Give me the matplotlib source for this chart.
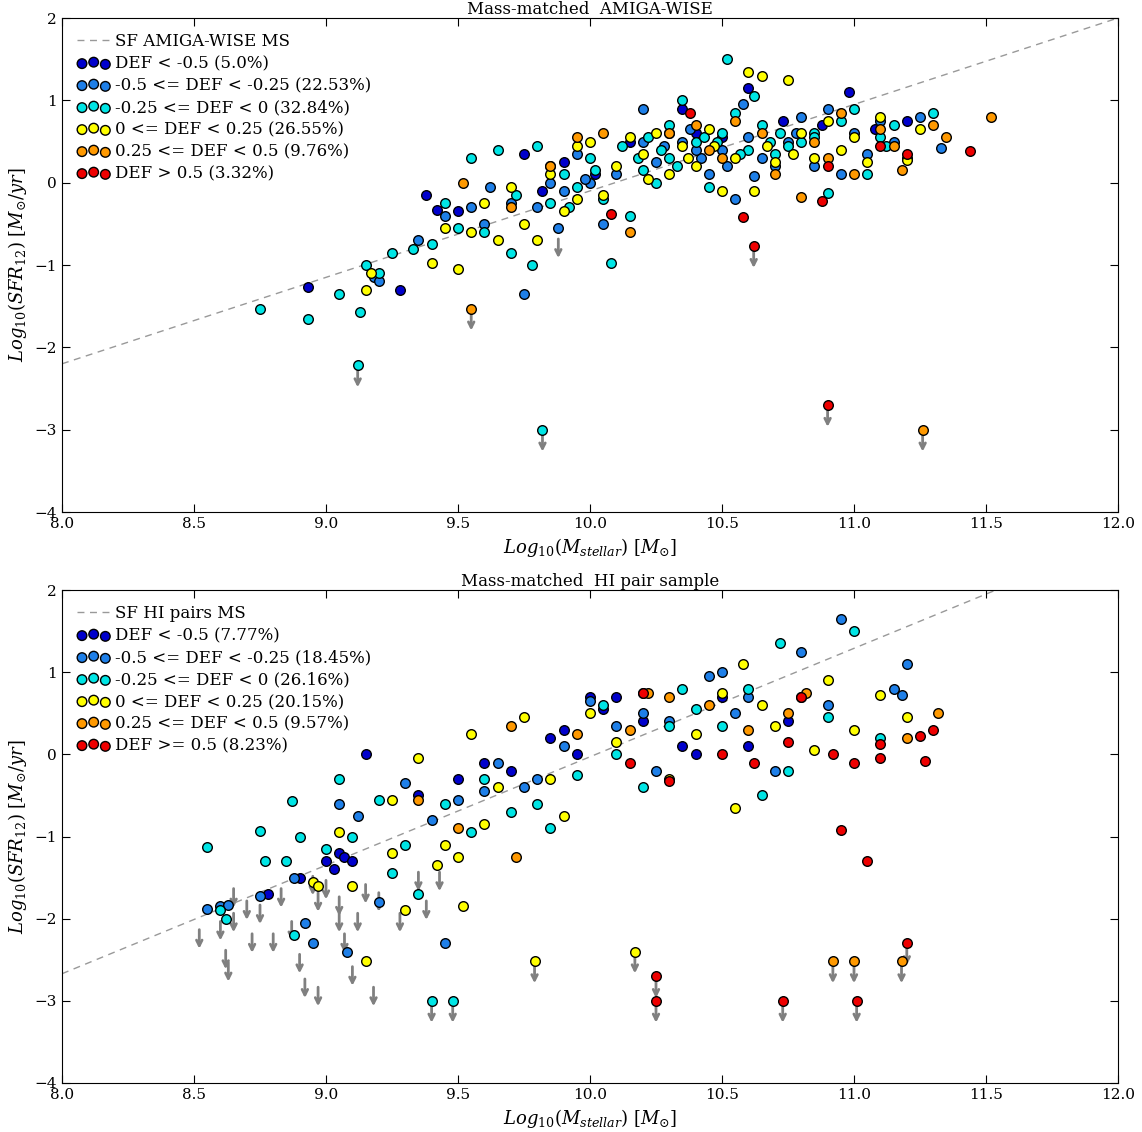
import matplotlib
matplotlib.use("Agg")
import matplotlib.pyplot as plt
import numpy as np

plt.rcParams['font.family'] = ['DejaVu Serif']
plt.rcParams['mathtext.fontset'] = 'dejavuserif'

colors = ['#0000cc', '#1e7fe8', '#00e5e5', '#ffff00', '#ff9900', '#ee0000']

# ---- top panel data ----
top_labels = ['DEF < -0.5 (5.0%)', '-0.5 <= DEF < -0.25 (22.53%)', '-0.25 <= DEF < 0 (32.84%)',
              '0 <= DEF < 0.25 (26.55%)', '0.25 <= DEF < 0.5 (9.76%)', 'DEF > 0.5 (3.32%)']
top_pts = [
 [(8.93,-1.27),(9.28,-1.3),(9.38,-0.15),(9.42,-0.33),(9.5,-0.35),(9.82,-0.1),(9.85,0.2),(9.9,0.25),(10.02,0.1),(10.35,0.9),(10.4,0.6),(10.6,1.15),(10.73,0.75),(10.98,1.1),(11.08,0.65),(11.2,0.75),(9.75,0.35),(10.15,0.5),(10.5,0.55),(10.88,0.7)],
 [(9.18,-1.15),(9.2,-1.2),(9.35,-0.7),(9.45,-0.4),(9.55,-0.3),(9.6,-0.5),(9.7,-0.25),(9.75,-1.35),(9.8,-0.3),(9.85,0.0),(9.88,-0.55),(9.9,-0.1),(9.95,0.35),(10.0,0.0),(10.05,-0.5),(10.1,0.1),(10.2,0.5),(10.25,0.25),(10.3,0.6),(10.35,0.5),(10.42,0.3),(10.45,0.1),(10.5,0.4),(10.55,-0.2),(10.6,0.55),(10.65,0.3),(10.7,0.2),(10.75,0.5),(10.8,0.8),(10.85,0.2),(10.9,0.9),(10.95,0.1),(11.0,0.6),(11.05,0.35),(11.15,0.5),(11.25,0.8),(11.33,0.42),(10.58,0.95),(10.2,0.9),(9.62,-0.05),(10.28,0.45),(10.38,0.65),(10.52,0.2),(10.62,0.08),(10.78,0.6),(11.1,0.75),(9.98,0.05),(10.4,0.4)],
 [(8.75,-1.53),(8.93,-1.65),(9.05,-1.35),(9.13,-1.57),(9.15,-1.0),(9.2,-1.1),(9.25,-0.85),(9.12,-2.22),(9.82,-3.0),(9.33,-0.8),(9.4,-0.75),(9.45,-0.25),(9.5,-0.55),(9.55,0.3),(9.6,-0.6),(9.65,0.4),(9.7,-0.85),(9.72,-0.15),(9.78,-1.0),(9.8,0.45),(9.85,-0.25),(9.9,0.1),(9.95,-0.05),(10.0,0.3),(10.05,-0.2),(10.08,-0.98),(10.12,0.45),(10.15,-0.4),(10.2,0.15),(10.25,0.0),(10.3,0.3),(10.35,1.0),(10.4,0.5),(10.45,-0.05),(10.5,0.6),(10.55,0.85),(10.6,0.4),(10.62,1.05),(10.65,0.7),(10.7,0.35),(10.75,0.45),(10.8,0.5),(10.85,0.6),(10.9,-0.12),(10.95,0.75),(11.0,0.9),(11.05,0.1),(11.1,0.55),(11.15,0.7),(11.2,0.3),(11.3,0.85),(10.52,1.5),(10.3,0.7),(10.22,0.55),(10.48,0.5),(10.68,0.5),(10.85,0.55),(10.27,0.4),(10.33,0.2),(10.43,0.55),(10.57,0.35),(10.72,0.6),(10.18,0.3),(10.02,0.15),(9.92,-0.3),(11.12,0.45)],
 [(9.15,-1.3),(9.17,-1.1),(9.4,-0.97),(9.5,-1.05),(9.55,-0.6),(9.6,-0.25),(9.65,-0.7),(9.7,-0.05),(9.75,-0.5),(9.8,-0.7),(9.85,0.1),(9.9,-0.35),(9.95,0.45),(10.0,0.5),(10.05,-0.15),(10.1,0.2),(10.15,0.55),(10.2,0.35),(10.25,0.6),(10.3,0.1),(10.35,0.45),(10.4,0.2),(10.45,0.65),(10.5,-0.1),(10.55,0.3),(10.6,1.35),(10.62,-0.1),(10.65,1.3),(10.7,0.25),(10.75,1.25),(10.8,0.6),(10.85,0.3),(10.9,0.75),(10.95,0.4),(11.0,0.55),(11.05,0.25),(11.1,0.8),(11.2,0.28),(11.25,0.65),(9.45,-0.55),(9.95,-0.2),(10.37,0.3),(10.47,0.45),(10.67,0.45),(10.77,0.35),(10.22,0.05)],
 [(9.55,-1.53),(11.26,-3.0),(9.7,-0.3),(9.85,0.2),(9.95,0.55),(10.05,0.6),(10.15,-0.6),(10.3,0.6),(10.4,0.7),(10.45,0.4),(10.5,0.3),(10.55,0.75),(10.65,0.6),(10.7,0.1),(10.8,-0.18),(10.85,0.5),(10.9,0.3),(10.95,0.85),(11.0,0.1),(11.1,0.65),(11.15,0.45),(11.18,0.15),(11.3,0.7),(11.35,0.55),(11.52,0.8),(9.52,0.0)],
 [(10.08,-0.38),(10.38,0.85),(10.58,-0.42),(10.62,-0.77),(10.88,-0.22),(10.9,0.2),(10.9,-2.7),(11.1,0.45),(11.2,0.35),(11.44,0.38)],
]
top_uplims = [(9.12,-2.22),(9.82,-3.0),(9.55,-1.53),(11.26,-3.0),(10.62,-0.77),(10.9,-2.7),(9.88,-0.65)]
top_ms = (-2.2, 1.05)  # intercept at 8, slope

# ---- bottom panel data ----
bot_labels = ['DEF < -0.5 (7.77%)', '-0.5 <= DEF < -0.25 (18.45%)', '-0.25 <= DEF < 0 (26.16%)',
              '0 <= DEF < 0.25 (20.15%)', '0.25 <= DEF < 0.5 (9.57%)', 'DEF >= 0.5 (8.23%)']
bot_pts = [
 [(8.78,-1.7),(8.9,-1.5),(9.0,-1.3),(9.05,-1.2),(9.07,-1.25),(9.1,-1.3),(9.15,0.0),(9.35,-0.5),(9.5,-0.3),(9.6,-0.1),(9.7,-0.2),(9.85,0.2),(9.95,0.0),(10.0,0.7),(10.05,0.55),(10.1,0.7),(10.2,0.4),(10.4,0.0),(10.5,0.7),(10.6,0.1),(10.75,0.4),(9.9,0.3),(9.03,-1.4),(10.35,0.1)],
 [(8.55,-1.88),(8.6,-1.85),(8.63,-1.83),(8.88,-1.5),(8.92,-2.05),(8.95,-2.3),(9.08,-2.4),(9.2,-1.8),(9.45,-2.3),(9.05,-0.6),(9.12,-0.75),(9.3,-0.35),(9.4,-0.8),(9.5,-0.55),(9.6,-0.45),(9.65,-0.1),(9.75,-0.4),(9.8,-0.3),(9.9,0.1),(10.0,0.65),(10.1,0.35),(10.2,0.5),(10.3,0.4),(10.45,0.95),(10.5,1.0),(10.55,0.5),(10.7,-0.2),(10.8,1.25),(10.9,0.6),(10.95,1.65),(11.15,0.8),(11.2,1.1),(11.18,0.72),(10.25,-0.2),(10.6,0.7),(8.75,-1.72)],
 [(8.55,-1.13),(8.6,-1.9),(8.62,-2.0),(8.75,-0.93),(8.77,-1.3),(8.85,-1.3),(8.87,-0.57),(8.88,-2.2),(8.9,-1.0),(9.0,-1.15),(9.05,-0.3),(9.1,-1.0),(9.2,-0.55),(9.3,-1.1),(9.35,-1.7),(9.4,-3.0),(9.48,-3.0),(9.45,-0.6),(9.55,-0.95),(9.6,-0.3),(9.7,-0.7),(9.8,-0.6),(9.85,-0.9),(9.95,-0.25),(10.05,0.6),(10.1,0.0),(10.2,-0.4),(10.3,0.35),(10.4,0.55),(10.5,0.35),(10.65,-0.5),(10.75,-0.2),(10.8,0.7),(11.0,1.5),(10.72,1.35),(10.9,0.45),(11.1,0.2),(10.6,0.8),(10.35,0.8),(9.25,-1.45)],
 [(8.95,-1.55),(8.97,-1.6),(9.05,-0.95),(9.1,-1.6),(9.15,-2.52),(9.25,-0.55),(9.3,-1.9),(9.35,-0.05),(9.42,-1.35),(9.45,-1.1),(9.5,-1.25),(9.55,0.25),(9.6,-0.85),(9.65,-0.4),(9.75,0.45),(9.79,-2.52),(9.85,-0.3),(9.9,-0.75),(10.0,0.5),(10.1,0.15),(10.17,-2.4),(10.2,0.75),(10.3,-0.3),(10.4,0.25),(10.5,0.75),(10.55,-0.65),(10.58,1.1),(10.7,0.35),(10.85,0.05),(10.9,0.9),(11.0,0.3),(11.1,0.72),(11.2,0.45),(10.65,0.6),(9.52,-1.85),(9.25,-1.2)],
 [(9.7,0.35),(9.72,-1.25),(9.95,0.25),(10.15,0.3),(10.22,0.75),(10.3,0.7),(10.45,0.6),(10.6,0.3),(10.75,0.5),(10.92,-2.52),(11.0,-2.52),(11.18,-2.52),(11.2,0.2),(11.32,0.5),(10.82,0.75),(9.5,-0.9),(9.35,-0.55)],
 [(10.2,0.75),(10.25,-2.7),(10.25,-3.0),(10.3,-0.32),(10.15,-0.1),(10.5,0.0),(10.62,-0.1),(10.73,-3.0),(10.75,0.15),(10.8,0.7),(10.92,0.0),(10.95,-0.92),(11.0,-0.1),(11.01,-3.0),(11.05,-1.3),(11.1,-0.05),(11.2,-2.3),(11.25,0.22),(11.27,-0.08),(11.3,0.3),(11.1,0.12)],
]
bot_uplims = [(9.4,-3.0),(9.48,-3.0),(9.79,-2.52),(10.17,-2.4),(10.92,-2.52),(11.0,-2.52),(11.18,-2.52),
              (10.25,-2.7),(10.25,-3.0),(10.73,-3.0),(11.01,-3.0),(11.2,-2.3),
              (8.52,-2.1),(8.6,-2.0),(8.62,-2.35),(8.63,-2.5),(8.65,-1.6),(8.65,-1.9),(8.7,-1.75),(8.72,-2.15),
              (8.75,-1.8),(8.8,-2.15),(8.83,-1.6),(8.87,-2.0),(8.9,-2.4),(8.92,-2.7),(8.95,-1.45),(8.97,-2.8),
              (9.0,-1.5),(9.05,-1.9),(9.07,-2.15),(9.1,-2.55),(9.12,-1.9),(9.15,-1.55),(9.18,-2.8),(9.2,-1.65),
              (9.28,-1.9),(9.35,-1.4),(9.38,-1.75),(9.43,-1.4),(8.97,-1.65),(9.05,-1.7)]
bot_ms = (-2.67, 1.32)

fig = plt.figure(figsize=(11.42, 11.32), dpi=100)
W, H = 1142, 1132
ax1 = fig.add_axes([62/W, 1-512/H, 1056/W, 494/H])
ax2 = fig.add_axes([62/W, 1-1083/H, 1056/W, 493/H])

def panel(ax, pts, labels, uplims, ms, mslabel, title):
    for (x, y) in uplims:
        ax.annotate('', xy=(x, y-0.3), xytext=(x, y),
                    arrowprops=dict(arrowstyle='->', color='gray', lw=2), zorder=1)
    xs = np.array([8, 12])
    ax.plot(xs, ms[0] + ms[1]*(xs-8), linestyle=(0, (5, 4)), color='#999999', lw=1, label=mslabel, zorder=1)
    for p, c, l in zip(pts, colors, labels):
        a = np.array(p)
        ax.scatter(a[:, 0], a[:, 1], s=48, c=c, edgecolors='black', linewidths=1, label=l, zorder=3)
    ax.set_xlim(8, 12); ax.set_ylim(-4, 2)
    ax.set_xticks(np.arange(8, 12.01, 0.5)); ax.set_yticks(range(-4, 3))
    ax.set_xticklabels([f'{v:.1f}' for v in np.arange(8, 12.01, 0.5)])
    ax.tick_params(direction='in', top=True, right=True, labelsize=11, length=6)
    ax.set_xlabel(r'$Log_{10}(M_{stellar})$ $[M_{\odot}]$', fontsize=13)
    ax.set_ylabel(r'$Log_{10}(SFR_{12})$ $[M_{\odot}/yr]$', fontsize=13)
    ax.set_title(title, fontsize=12, pad=3)
    ax.legend(loc='upper left', frameon=False, scatterpoints=3, fontsize=12,
              handletextpad=0.3, labelspacing=0.3)

panel(ax1, top_pts, top_labels, top_uplims, top_ms, 'SF AMIGA-WISE MS', 'Mass-matched  AMIGA-WISE')
panel(ax2, bot_pts, bot_labels, bot_uplims, bot_ms, 'SF HI pairs MS', 'Mass-matched  HI pair sample')
fig.savefig('out.png', dpi=100)
